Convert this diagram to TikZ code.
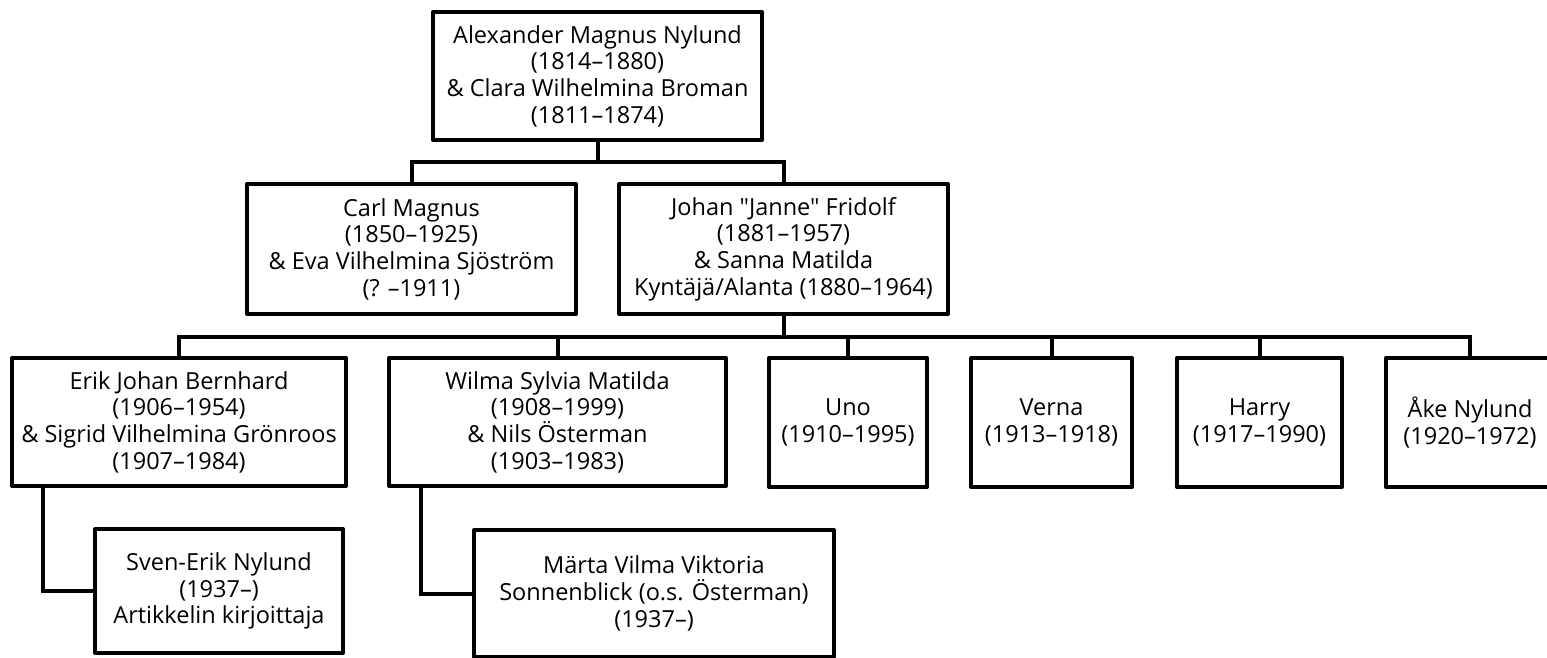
\documentclass[tikz,border=0pt]{standalone}
\usepackage{fontspec}
\setmainfont{Open Sans}[Ligatures=TeXOff]
\begin{document}
\begin{tikzpicture}[x=1pt,y=-1pt,
  box/.style={draw,line width=4pt,line join=round,align=center,inner sep=0pt,
    font=\fontsize{23.5}{26.7}\selectfont},
  link/.style={line width=4pt,line cap=rect}]
\useasboundingbox (0,0) rectangle (1547,658);
\clip (0,0) rectangle (1547,658);
\node[box,minimum width=329,minimum height=128] (top) at (597.5,76)
  {Alexander Magnus Nylund\\(1814–1880)\\\& Clara Wilhelmina Broman\\(1811–1874)};
\node[box,minimum width=329,minimum height=130] (carl) at (411.5,249)
  {Carl Magnus\\(1850–1925)\\\& Eva Vilhelmina Sjöström\\(? –1911)};
\node[box,minimum width=329,minimum height=130] (johan) at (783.5,249)
  {Johan "Janne" Fridolf\\(1881–1957)\\\& Sanna Matilda\\Kyntäjä/Alanta (1880–1964)};
\node[box,minimum width=334,minimum height=128] (erik) at (179,422)
  {Erik Johan Bernhard\\(1906–1954)\\\& Sigrid Vilhelmina Grönroos\\(1907–1984)};
\node[box,minimum width=337,minimum height=128] (wilma) at (557.5,422)
  {Wilma Sylvia Matilda\\(1908–1999)\\\& Nils Österman\\(1903–1983)};
\node[box,minimum width=158,minimum height=129] (uno) at (848,422.5)
  {Uno\\(1910–1995)};
\node[box,minimum width=161,minimum height=129] (verna) at (1051.5,422.5)
  {Verna\\(1913–1918)};
\node[box,minimum width=165,minimum height=129] (harry) at (1259.5,422.5)
  {Harry\\(1917–1990)};
\node[box,minimum width=168,minimum height=129] (ake) at (1470,422.5)
  {Åke Nylund\\(1920–1972)};
\node[box,minimum width=248,minimum height=124] (sven) at (219,591)
  {Sven-Erik Nylund\\(1937–)\\Artikkelin kirjoittaja};
\node[box,minimum width=360,minimum height=127] (marta) at (654,593.5)
  {Märta Vilma Viktoria\\Sonnenblick (o.s. Österman)\\(1937–)};
\coordinate (b1) at (597.5,162);
\coordinate (b2) at (783.5,337);
\draw[link] (top.south) -- (b1);
\draw[link] (carl.north) -- (carl.north |- b1) -- (johan.north |- b1) -- (johan.north);
\draw[link] (johan.south) -- (b2);
\draw[link] (erik.north) -- (erik.north |- b2) -- (ake.north |- b2) -- (ake.north);
\foreach \n in {wilma,uno,verna,harry} \draw[link] (\n.north) -- (\n.north |- b2);
\draw[link] (sven.west) -| ([xshift=33]erik.south west);
\draw[link] (marta.west) -| ([xshift=34]wilma.south west);
\end{tikzpicture}
\end{document}
